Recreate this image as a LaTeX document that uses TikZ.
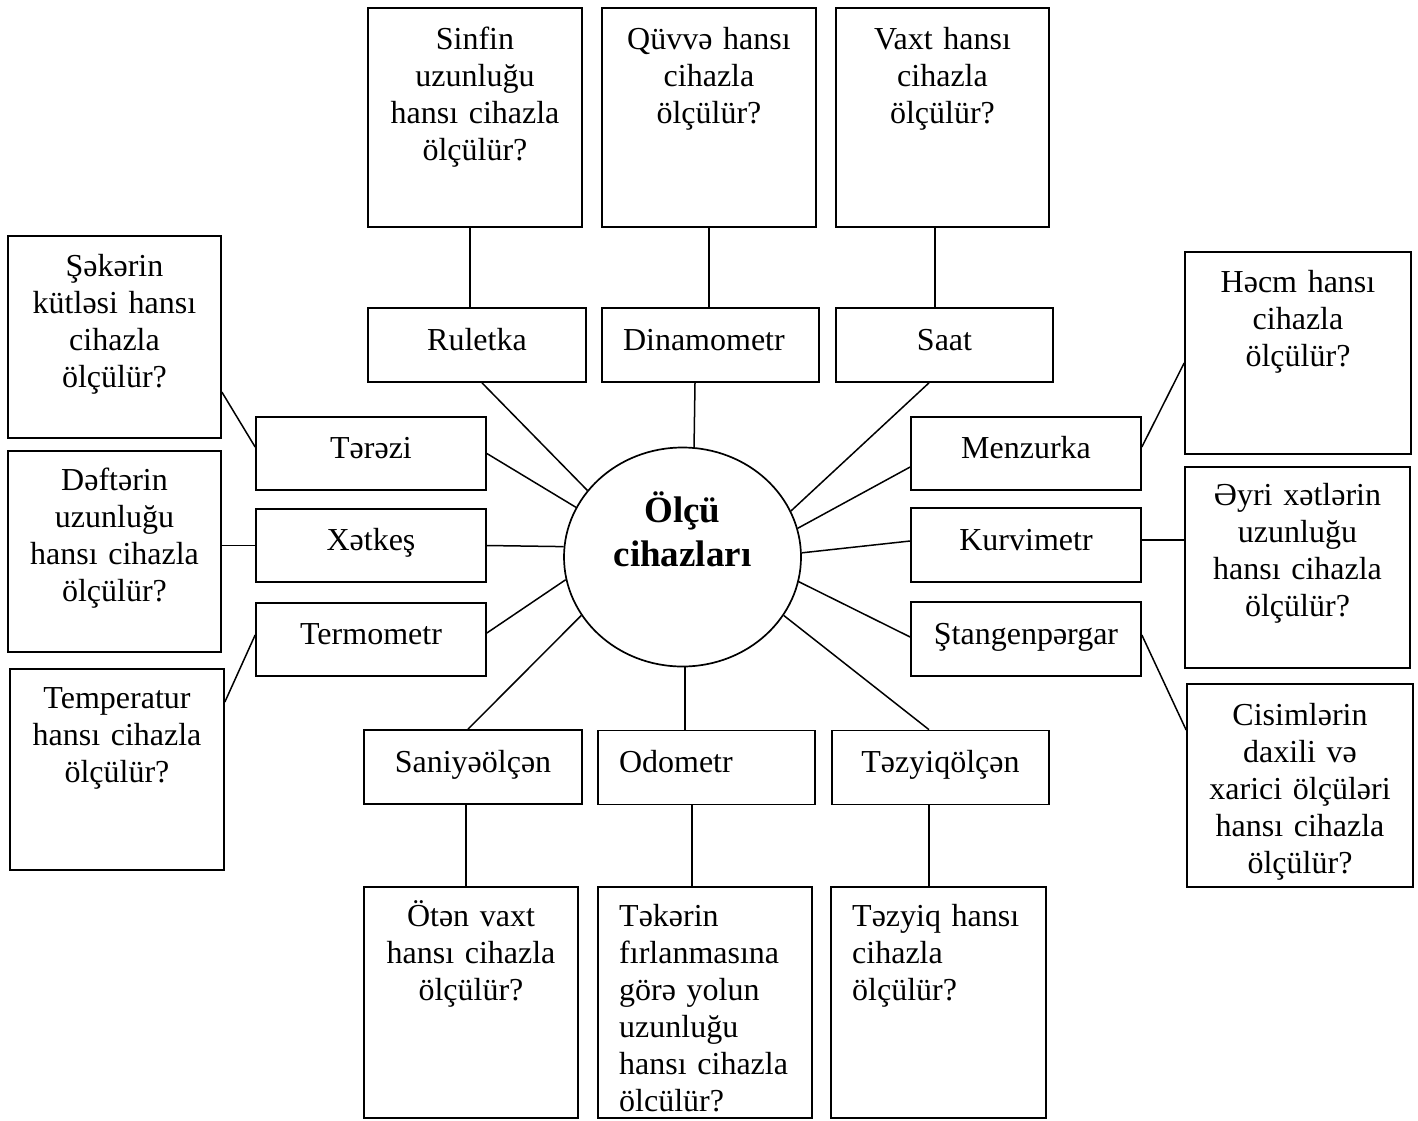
\documentclass[tikz,border=0pt]{standalone}
\usepackage{fontspec}
\setmainfont{Liberation Serif}
\usetikzlibrary{shapes.geometric}
\tikzset{
  qbox/.style={draw, line width=1.7pt, inner sep=0pt},
  qtext/.style={anchor=base, align=center, text width=205pt, inner sep=0pt, font=\fontsize{32}{37}\selectfont},
  qtextl/.style={anchor=base west, align=left, text width=190pt, inner sep=0pt, font=\fontsize{32}{37}\selectfont},
  ibox/.style={draw, line width=1.7pt, minimum height=74pt, inner xsep=0pt, inner ysep=0pt, text height=20pt, text depth=10pt, font=\fontsize{32}{37}\selectfont},
  iboxl/.style={ibox, text width=175pt, align=left, inner xsep=21pt},
  link/.style={line width=1.5pt}
}
\begin{document}
\begin{tikzpicture}[x=1pt,y=-1pt]
\fill[white] (0,0) rectangle (1418,1120);
\useasboundingbox (0,0) rectangle (1418,1120);

% centre
\node[draw, ellipse, line width=1.7pt, minimum width=237pt, minimum height=219pt, inner sep=0pt] (olc) at (682.5,557) {};
\node[font=\bfseries\fontsize{37}{44}\selectfont, align=center, anchor=base, text width=220pt, inner sep=0pt] (olct) at (682.5,522) {Ölçü\\cihazları};

% instruments
\node[ibox, minimum width=218pt] (rul) at (477,345) {Ruletka};
\node[iboxl, minimum width=217pt] (din) at (710.5,345) {Dinamometr};
\node[ibox, minimum width=217pt] (saat) at (944.5,345) {Saat};
\node[ibox, minimum width=230pt, minimum height=73pt] (ter) at (371,453.5) {Tərəzi};
\node[ibox, minimum width=230pt, minimum height=73pt] (xet) at (371,545.5) {Xətkeş};
\node[ibox, minimum width=230pt, minimum height=73pt] (term) at (371,639.5) {Termometr};
\node[ibox, minimum width=230pt, minimum height=73pt] (menz) at (1026,453.5) {Menzurka};
\node[ibox, minimum width=230pt] (kurv) at (1026,545) {Kurvimetr};
\node[ibox, minimum width=230pt] (stan) at (1026,639) {Ştangenpərgar};
\node[ibox, minimum width=218pt] (sani) at (473,767) {Saniyəölçən};
\node[iboxl, minimum width=217pt] (odo) at (706.5,767.5) {Odometr};
\node[ibox, minimum width=217pt] (tezo) at (940.5,767.5) {Təzyiqölçən};

% question boxes
\node[qbox, minimum width=214pt, minimum height=219pt] (qsin) at (475,117.5) {};
\node[qbox, minimum width=214pt, minimum height=219pt] (qquv) at (709,117.5) {};
\node[qbox, minimum width=213pt, minimum height=219pt] (qvax) at (942.5,117.5) {};
\node[qbox, minimum width=213pt, minimum height=202pt] (qsek) at (114.5,337) {};
\node[qbox, minimum width=213pt, minimum height=201pt] (qdef) at (114.5,551.5) {};
\node[qbox, minimum width=214pt, minimum height=201pt] (qtem) at (117,769.5) {};
\node[qbox, minimum width=226pt, minimum height=202pt] (qhec) at (1298,353) {};
\node[qbox, minimum width=225pt, minimum height=201pt] (qeyr) at (1297.5,567.5) {};
\node[qbox, minimum width=226pt, minimum height=203pt] (qcis) at (1300,785.5) {};
\node[qbox, minimum width=214pt, minimum height=231pt] (qote) at (471,1002.5) {};
\node[qbox, minimum width=214pt, minimum height=231pt] (qtek) at (705,1002.5) {};
\node[qbox, minimum width=215pt, minimum height=231pt] (qtez) at (938.5,1002.5) {};

% question texts
\node[qtext] (tsin) at (475,49) {Sinfin\\uzunluğu\\hansı cihazla\\ölçülür?};
\node[qtext] (tquv) at (709,49) {Qüvvə hansı\\cihazla\\ölçülür?};
\node[qtext] (tvax) at (942.5,49) {Vaxt hansı\\cihazla\\ölçülür?};
\node[qtext] (tsek) at (114.5,276) {Şəkərin\\kütləsi hansı\\cihazla\\ölçülür?};
\node[qtext] (tdef) at (114.5,490) {Dəftərin\\uzunluğu\\hansı cihazla\\ölçülür?};
\node[qtext] (ttem) at (117,708) {Temperatur\\hansı cihazla\\ölçülür?};
\node[qtext] (thec) at (1298,292) {Həcm hansı\\cihazla\\ölçülür?};
\node[qtext] (teyr) at (1297.5,505) {Əyri xətlərin\\uzunluğu\\hansı cihazla\\ölçülür?};
\node[qtext] (tcis) at (1300,725) {Cisimlərin\\daxili və\\xarici ölçüləri\\hansı cihazla\\ölçülür?};
\node[qtext] (tote) at (471,926) {Ötən vaxt\\hansı cihazla\\ölçülür?};
\node[qtextl] (ttek) at (619,926) {Təkərin\\fırlanmasına\\görə yolun\\uzunluğu\\hansı cihazla\\ölcülür?};
\node[qtextl] (ttez) at (852,926) {Təzyiq hansı\\cihazla\\ölçülür?};

% connectors
\draw[link] ([xshift=-5pt]qsin.south) -- ([xshift=-5pt]qsin.south |- rul.north);
\draw[link] (qquv.south) -- (qquv.south |- din.north);
\draw[link] ([xshift=-7.5pt]qvax.south) -- ([xshift=-7.5pt]qvax.south |- saat.north);
\draw[link] ([xshift=5pt]rul.south) -- (olc.145.5);
\draw[link] ([xshift=-15.5pt]din.south) -- (olc.84.5);
\draw[link] ([xshift=-15.5pt]saat.south) -- (olc.23.4);
\draw[link] (ter.east) -- (olc.155.8);
\draw[link] ([yshift=6.5pt]ter.west) -- ([yshift=-55pt]qsek.east);
\draw[link] (xet.east) -- (olc.175.7);
\draw[link] (xet.west) -- (xet.west -| qdef.east);
\draw[link] ([yshift=6.5pt]term.east) -- (olc.191);
\draw[link] ([yshift=4.5pt]term.west) -- ([yshift=67.5pt]qtem.east);
\draw[link] ([xshift=-5pt]sani.north) -- (olc.210.8);
\draw[link] ([xshift=-7pt]sani.south) -- ([xshift=-7pt]sani.south |- qote.north);
\draw[link] ([xshift=-21.5pt]odo.north) -- ([xshift=-21.5pt]odo.north |- olc.south);
\draw[link] ([xshift=-14.5pt]odo.south) -- ([xshift=-14.5pt]odo.south |- qtek.north);
\draw[link] ([xshift=-11.5pt]tezo.north) -- (olc.-30);
\draw[link] ([xshift=-11.5pt]tezo.south) -- ([xshift=-11.5pt]tezo.south |- qtez.north);
\draw[link] ([yshift=-13.5pt]menz.west) -- (olc.14);
\draw[link] ([yshift=6.5pt]menz.east) -- ([yshift=-10pt]qhec.west);
\draw[link] ([yshift=4pt]kurv.west) -- (olc.2.4);
\draw[link] ([yshift=5pt]kurv.east) -- ([yshift=5pt]kurv.east -| qeyr.west);
\draw[link] ([yshift=2pt]stan.west) -- (olc.-12);
\draw[link] ([yshift=4pt]stan.east) -- ([yshift=55.5pt]qcis.west);
\end{tikzpicture}
\end{document}
